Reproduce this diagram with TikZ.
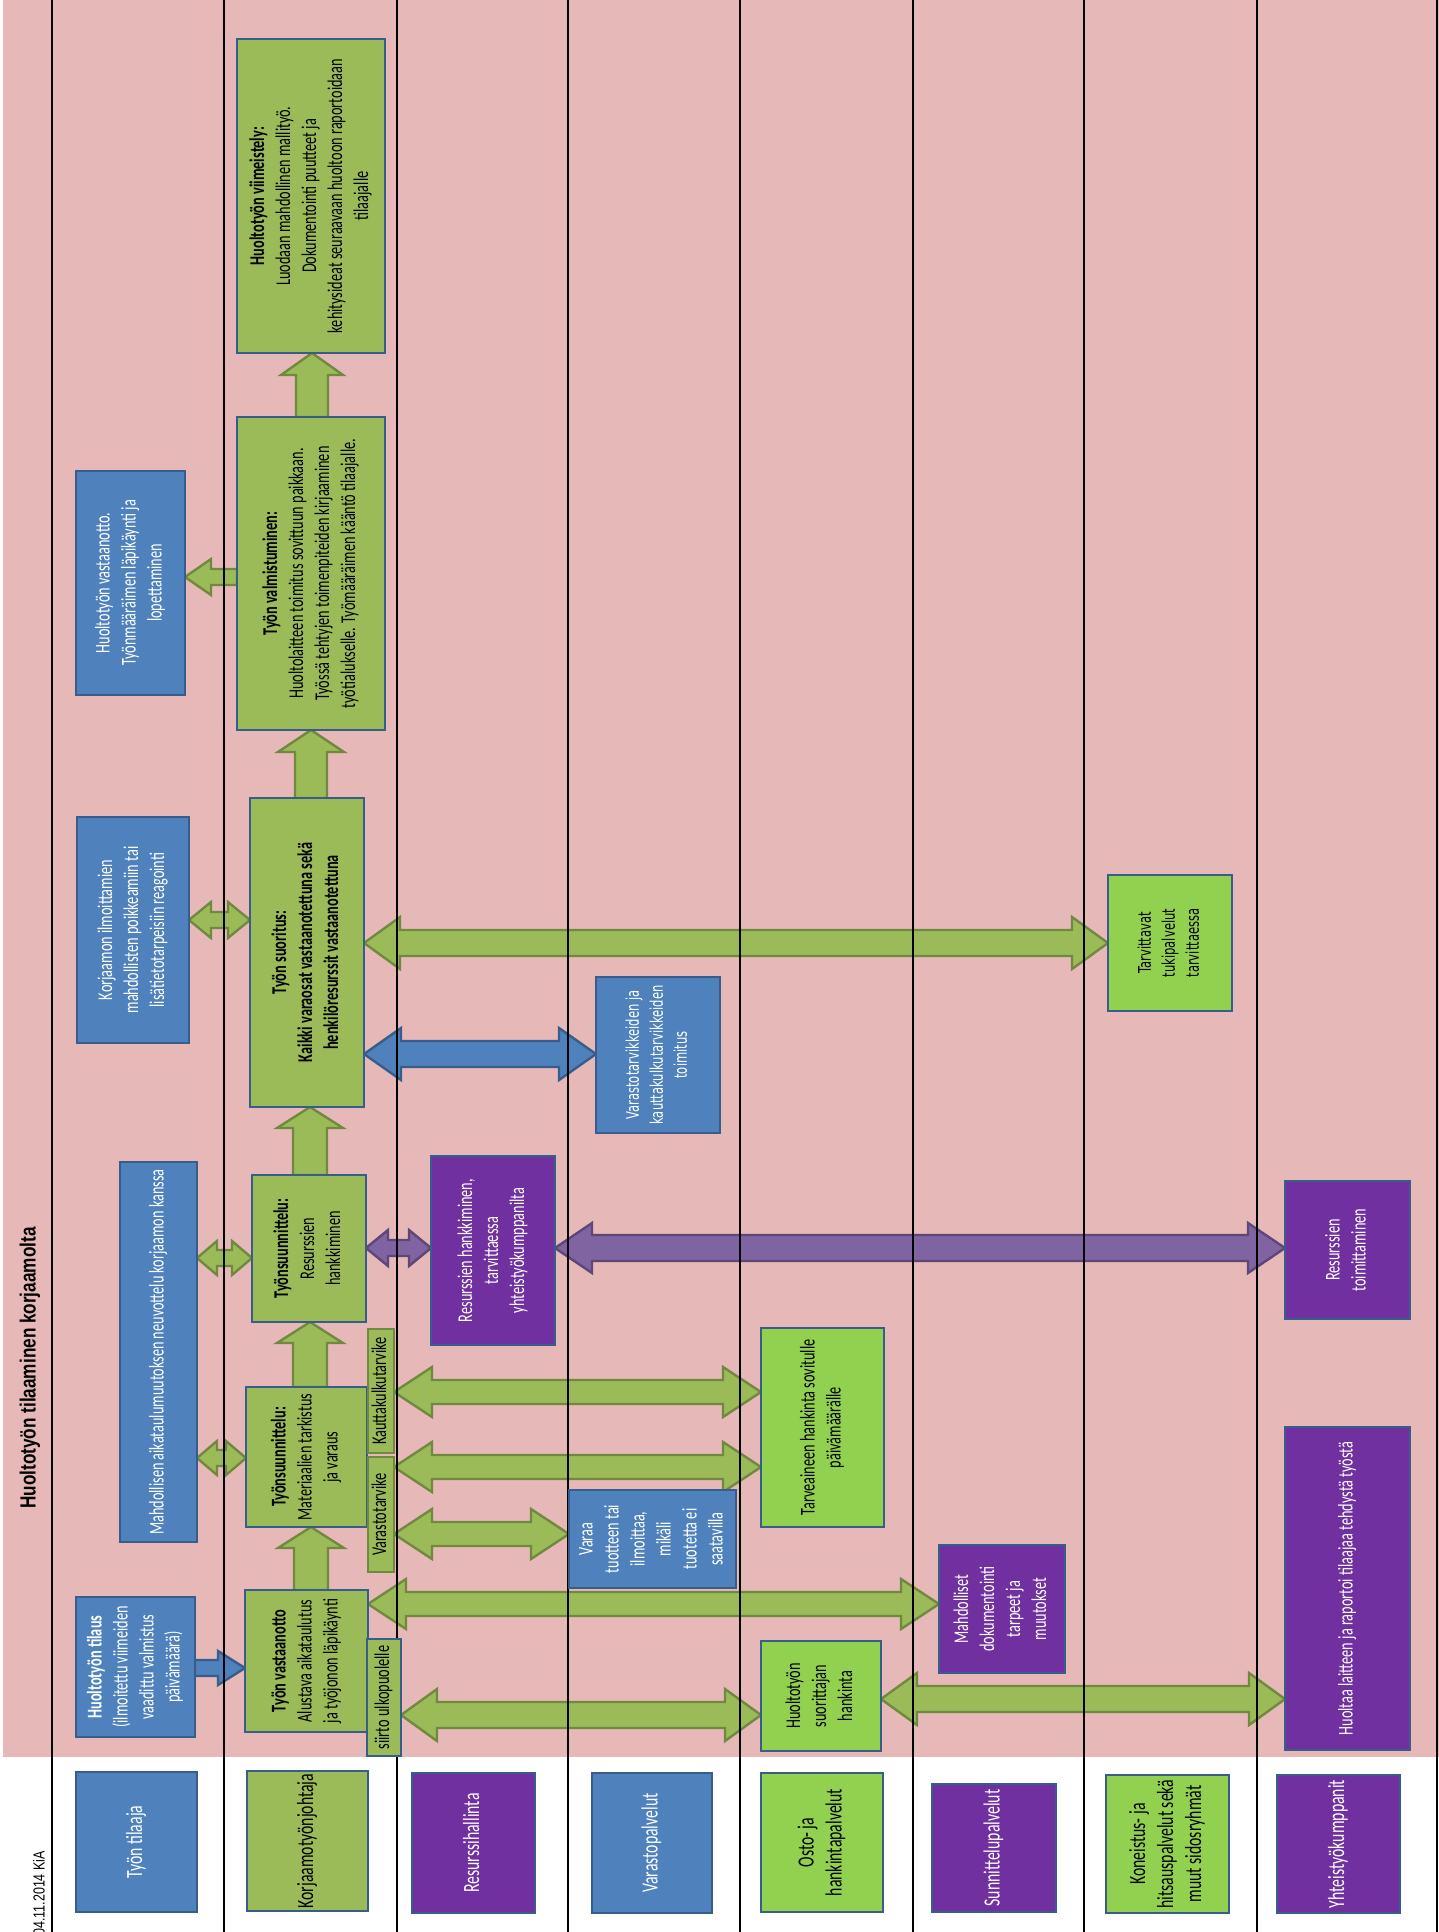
\documentclass[tikz,border=0pt]{standalone}
\usepackage{fontspec}
\usepackage{graphicx}
\setmainfont{Carlito}
\newfontfamily\cf[FakeStretch=0.68]{Carlito}
\newfontfamily\dvf[FakeStretch=0.66]{DejaVu Sans}
\newfontfamily\arf[FakeStretch=0.78]{Liberation Sans}
\usetikzlibrary{calc}
\pgfdeclarelayer{bg}
\pgfdeclarelayer{arr}
\pgfdeclarelayer{lin}
\pgfsetlayers{bg,arr,lin,main}
\definecolor{pinkbg}{HTML}{E6B9B8}
\definecolor{bluef}{HTML}{4F81BD}
\definecolor{blueb}{HTML}{385D8A}
\definecolor{olivef}{HTML}{9BBB59}
\definecolor{oliveb}{HTML}{71893F}
\definecolor{brightg}{HTML}{92D050}
\definecolor{purpf}{HTML}{7030A0}
\definecolor{purpa}{HTML}{8064A2}
\definecolor{purpab}{HTML}{5C4776}
\newcommand{\rtx}[1]{\rotatebox{90}{\begin{tabular}{@{}c@{}}#1\end{tabular}}}
\newcommand{\mkbox}[7]{\node[#2, minimum width={(#5-#3)*0.5pt}, minimum height={(#6-#4)*0.5pt}] (#1) at ({(#3+#5)/2},{(#4+#6)/2}) {\rtx{#7}};}
\newcommand{\dbla}[7]{\draw[#1] let \p1=(#2), \p2=(#3), \n1={-(#4)*0.5pt}, \n2={(#5)*0.5pt}, \n3={(#6)*0.5pt}, \n4={(#7)*0.5pt} in
({\x1},{\n1}) -- ({\x1+\n2},{\n1+\n4}) -- ({\x1+\n2},{\n1+\n3}) -- ({\x2-\n2},{\n1+\n3}) -- ({\x2-\n2},{\n1+\n4}) -- ({\x2},{\n1}) -- ({\x2-\n2},{\n1-\n4}) -- ({\x2-\n2},{\n1-\n3}) -- ({\x1+\n2},{\n1-\n3}) -- ({\x1+\n2},{\n1-\n4}) -- cycle;}
\newcommand{\sgla}[7]{\draw[#1] let \p1=(#2), \p2=(#3), \n1={-(#4)*0.5pt}, \n2={(#5)*0.5pt}, \n3={(#6)*0.5pt}, \n4={(#7)*0.5pt} in
({\x1},{\n1+\n3}) -- ({\x2-(\n2)},{\n1+\n3}) -- ({\x2-(\n2)},{\n1+\n4}) -- ({\x2},{\n1}) -- ({\x2-(\n2)},{\n1-\n4}) -- ({\x2-(\n2)},{\n1-\n3}) -- ({\x1},{\n1-\n3}) -- cycle;}
\newcommand{\upa}[7]{\draw[#1] let \p1=(#2), \p2=(#3), \n1={(#4)*0.5pt}, \n2={(#5)*0.5pt}, \n3={(#6)*0.5pt}, \n4={(#7)*0.5pt} in
({\n1-\n3},{\y1}) -- ({\n1-\n3},{\y2-\n2}) -- ({\n1-\n4},{\y2-\n2}) -- ({\n1},{\y2}) -- ({\n1+\n4},{\y2-\n2}) -- ({\n1+\n3},{\y2-\n2}) -- ({\n1+\n3},{\y1}) -- cycle;}
\begin{document}
\begin{tikzpicture}[x=0.5pt,y=-0.5pt,
  bbase/.style={draw=blueb, line width=1.3pt, inner sep=0pt, outer sep=0pt, font=\cf\fontsize{10.5}{13}\selectfont},
  dv/.style={font=\dvf\fontsize{8.75}{12}\selectfont},
  lbl/.style={font=\cf\fontsize{11.6}{14}\selectfont},
  bluebox/.style={bbase, fill=bluef, text=white},
  olivebox/.style={bbase, fill=olivef, text=black},
  smallg/.style={bbase, draw=oliveb, fill=olivef, text=black},
  greenbox/.style={bbase, fill=brightg, text=black},
  purplebox/.style={bbase, fill=purpf, text=white},
  garrow/.style={draw=oliveb, fill=olivef, line width=1.2pt, line join=miter},
  barrow/.style={draw=blueb, fill=bluef, line width=1.2pt, line join=miter},
  parrow/.style={draw=purpab, fill=purpa, line width=1.2pt, line join=miter},
  laneline/.style={draw=black, line width=1.25pt}]
\useasboundingbox (0,0) rectangle (1439,1932);
\begin{pgfonlayer}{bg}
\fill[pinkbg] (3,0) rectangle (1439,1757);
\end{pgfonlayer}
\begin{pgfonlayer}{lin}
\foreach \lx in {52,224,397,568,740,913,1084,1257,1437} \draw[laneline] (\lx,0) -- (\lx,1932);
\end{pgfonlayer}
% title and date
\node[rotate=90, inner sep=0pt, font=\arf\bfseries\fontsize{11}{13}\selectfont] (title) at (30,1368) {Huoltotyön tilaaminen korjaamolta};
\node[rotate=90, anchor=west, inner sep=0pt, font=\arf\fontsize{8}{10}\selectfont] (date) at (39,1936) {04.11.2014 KiA};
% lane labels
\mkbox{l1}{bluebox,lbl}{76}{1772}{197}{1912}{Työn tilaaja}
\mkbox{l2}{olivebox,lbl}{247}{1771}{368}{1911}{Korjaamotyönjohtaja}
\mkbox{l3}{purplebox,lbl}{412}{1773}{535}{1913}{Resurssihallinta}
\mkbox{l4}{bluebox,lbl}{592}{1773}{712}{1913}{Varastopalvelut}
\mkbox{l5}{greenbox,lbl}{761}{1773}{883}{1912}{Osto- ja\\hankintapalvelut}
\mkbox{l6}{purplebox,lbl}{932}{1784}{1056}{1912}{Sunnittelupalvelut}
\mkbox{l7}{greenbox,lbl}{1106}{1775}{1229}{1913}{Koneistus- ja\\hitsauspalvelut sekä\\muut sidosryhmät}
\mkbox{l8}{purplebox,lbl}{1277}{1775}{1400}{1913}{Yhteistyökumppanit}
% process boxes
\mkbox{tilaus}{bluebox}{76}{1597}{195}{1737}{\textbf{Huoltotyön tilaus}\\(ilmoitettu viimeiden\\vaadittu valmistus\\päivämäärä)}
\mkbox{vast}{olivebox}{245}{1590}{368}{1732}{\textbf{Työn vastaanotto}\\Alustava aikataulutus\\ja työjonon läpikäynti}
\mkbox{siirto}{olivebox}{367}{1639}{401}{1756}{siirto ulkopuolelle}
\mkbox{mat}{olivebox}{246}{1387}{367}{1527}{\textbf{Työnsuunnittelu:}\\Materiaalien tarkistus\\ja varaus}
\mkbox{kautta}{smallg}{368}{1329}{394}{1453}{Kauttakulkutarvike}
\mkbox{varasto}{smallg}{368}{1457}{394}{1572}{Varastotarvike}
\mkbox{res}{olivebox}{252}{1175}{366}{1322}{\textbf{Työnsuunnittelu:}\\Resurssien\\hankkiminen}
\mkbox{mahd}{bluebox}{120}{1162}{197}{1542}{Mahdollisen aikataulumuutoksen neuvottelu korjaamon kanssa}
\mkbox{reshank}{purplebox}{431}{1156}{555}{1345}{Resurssien hankkiminen,\\tarvittaessa\\yhteistyökumppanilta}
\mkbox{restoim}{purplebox}{1285}{1181}{1410}{1319}{Resurssien\\toimittaminen}
\mkbox{huoltaa}{purplebox}{1285}{1427}{1410}{1750}{Huoltaa laitteen ja raportoi tilaajaa tehdystä työstä}
\mkbox{suorhank}{greenbox}{761}{1641}{881}{1751}{Huoltotyön\\suorittajan\\hankinta}
\mkbox{doku}{purplebox}{939}{1545}{1065}{1673}{Mahdolliset\\dokumentointi\\tarpeet ja\\muutokset}
\mkbox{varaa}{bluebox}{569}{1490}{736}{1588}{Varaa\\tuotteen tai\\ilmoittaa,\\mikäli\\tuotetta ei\\saatavilla}
\mkbox{tarve}{greenbox}{761}{1328}{884}{1527}{Tarveaineen hankinta sovitulle\\päivämäärälle}
\mkbox{suor}{olivebox}{250}{798}{364}{1107}{\textbf{Työn suoritus:}\\\textbf{Kaikki varaosat vastaanotettuna sekä}\\\textbf{henkilöresurssit vastaanotettuna}}
\mkbox{korj}{bluebox}{77}{817}{189}{1043}{Korjaamon ilmoittamien\\mahdollisten poikkeamiin tai\\lisätietotarpeisiin reagointi}
\mkbox{tuki}{greenbox,dv}{1108}{875}{1232}{1011}{Tarvittavat\\tukipalvelut\\tarvittaessa}
\mkbox{vtoim}{bluebox,dv}{596}{977}{720}{1133}{Varastotarvikkeiden ja\\kauttakulkutarvikkeiden\\toimitus}
\mkbox{valm}{olivebox}{237}{417}{385}{730}{\textbf{Työn valmistuminen:}\\Huoltolaitteen toimitus sovittuun paikkaan.\\Työssä tehtyjen toimenpiteiden kirjaaminen\\työtialukselle. Työmääräimen kääntö tilaajalle.}
\mkbox{hvast}{bluebox}{76}{471}{185}{695}{Huoltotyön vastaanotto.\\Työnmääräimen läpikäynti ja\\lopettaminen}
\mkbox{viim}{olivebox}{237}{39}{385}{353}{\textbf{Huoltotyön viimeistely:}\\Luodaan mahdollinen mallityö.\\Dokumentointi puutteet ja\\kehitysideat seuraavaan huoltoon raportoidaan\\tilaajalle}
% arrows
\begin{pgfonlayer}{arr}
\sgla{barrow}{tilaus.east}{vast.west}{1668}{27}{8}{17}
\upa{garrow}{vast.north}{mat.south}{311}{21}{17}{33}
\upa{garrow}{mat.north}{res.south}{310}{21}{17}{33}
\upa{garrow}{res.north}{suor.south}{310}{21}{17}{33}
\upa{garrow}{suor.north}{valm.south}{311}{22}{16}{33}
\upa{garrow}{valm.north}{viim.south}{312}{22}{16}{31}
\sgla{garrow}{valm.west}{hvast.east}{577}{-26}{8}{18}
\dbla{garrow}{mahd.east}{res.west}{1258}{20}{8}{17}
\dbla{garrow}{mahd.east}{mat.west}{1458}{20}{8}{17}
\dbla{garrow}{korj.east}{suor.west}{920}{22}{8}{18}
\dbla{parrow}{res.east}{reshank.west}{1248}{22}{8}{18}
\dbla{parrow}{reshank.east}{restoim.west}{1248}{37}{13}{25}
\dbla{garrow}{kautta.east}{tarve.west}{1392}{38}{12}{25}
\dbla{garrow}{varasto.east}{tarve.west}{1467}{38}{12}{25}
\dbla{garrow}{varasto.east}{varaa.west}{1534}{38}{12}{25}
\dbla{garrow}{vast.east}{doku.west}{1604}{38}{12}{25}
\dbla{garrow}{siirto.east}{suorhank.west}{1715}{36}{13}{26}
\dbla{garrow}{suorhank.east}{huoltaa.west}{1699}{36}{13}{26}
\dbla{garrow}{suor.east}{tuki.west}{943}{36}{13}{26}
\dbla{barrow}{suor.east}{vtoim.west}{1054}{37}{13}{26}
\end{pgfonlayer}
\end{tikzpicture}
\end{document}
